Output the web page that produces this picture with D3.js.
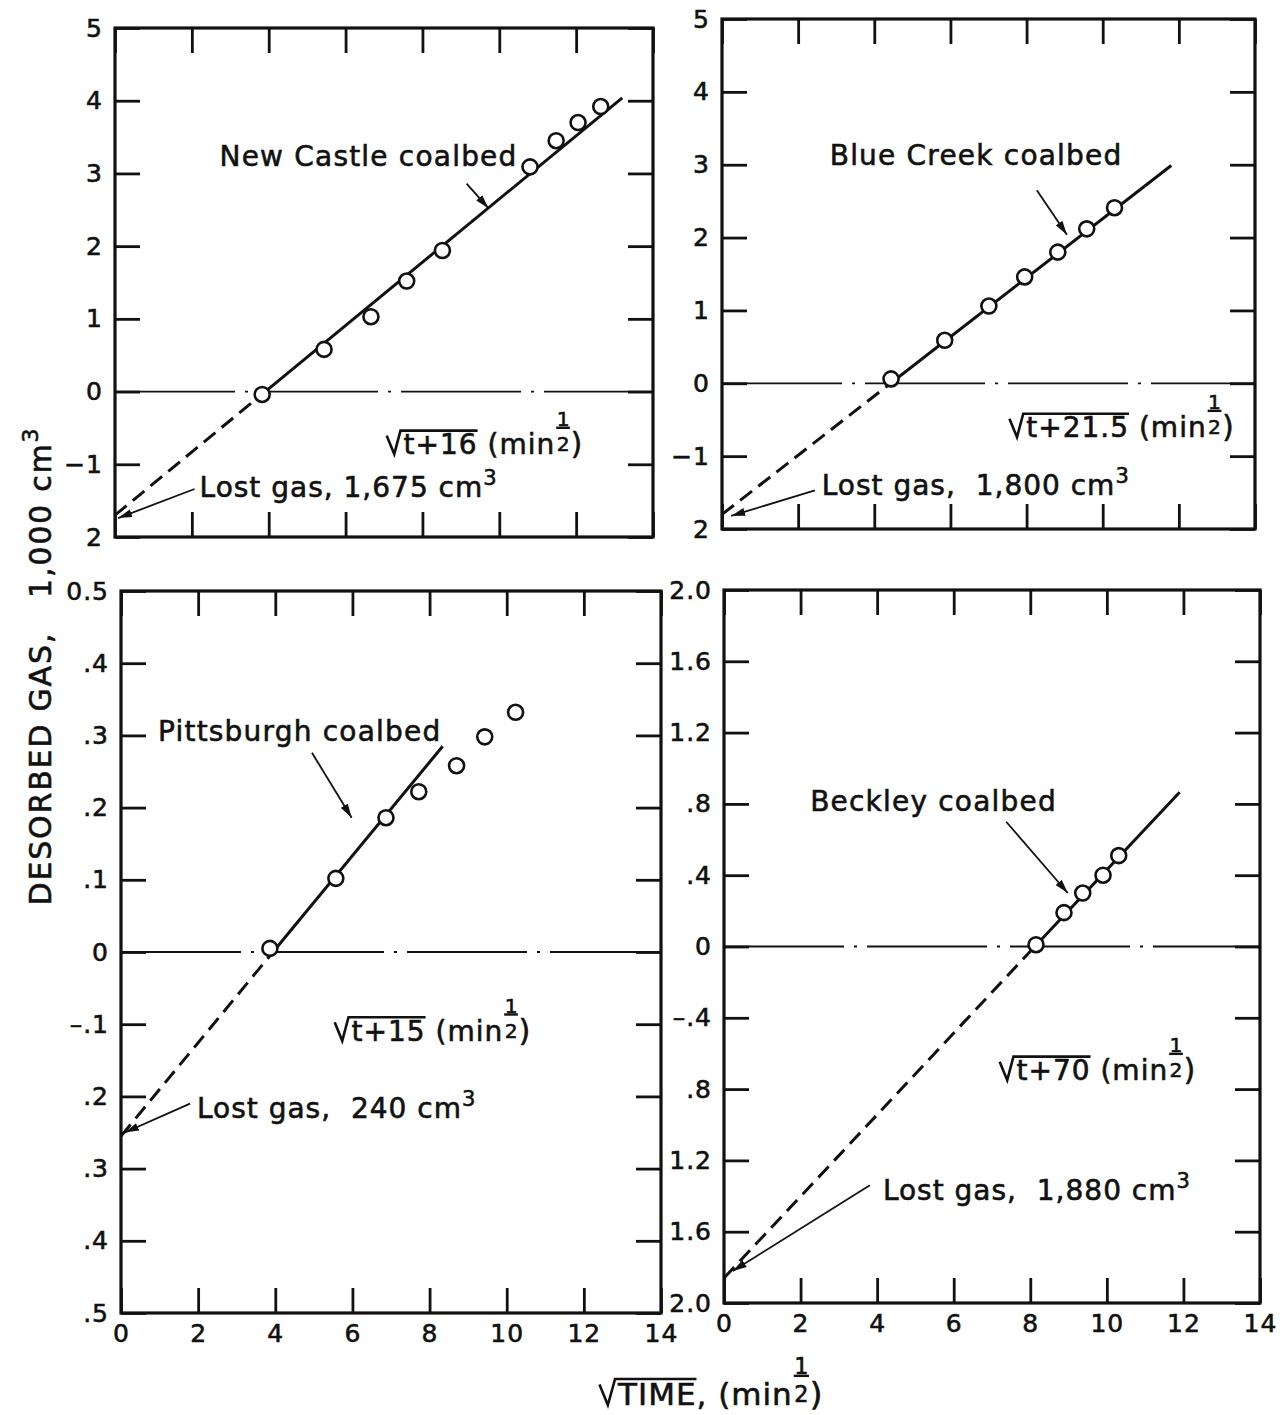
<!DOCTYPE html>
<html>
<head>
<meta charset="utf-8">
<script src="https://cdn.jsdelivr.net/npm/d3@7"></script>
<style>
  body { margin: 0; background: #fff; }
  text { font-family: "DejaVu Sans", sans-serif; fill: #111; stroke: #111; stroke-width: 0.6px; }
</style>
</head>
<body>
<svg id="chart" width="1287" height="1415"></svg>
<script>
// x axis (sqrt time) shared by all panels
const xTicks = [0, 2, 4, 6, 8, 10, 12, 14];
const xTickLabels = ["0", "2", "4", "6", "8", "10", "12", "14"];

// upper panels y axis
const upperTicks = [-2, -1, 0, 1, 2, 3, 4, 5];
const upperTickLabels = ["2", "\u22121", "0", "1", "2", "3", "4", "5"];

// New Castle coalbed
const newCastleX = [3.83, 5.44, 6.66, 7.59, 8.52, 10.8, 11.48, 12.05, 12.64];
const newCastleY = [-0.04, 0.58, 1.03, 1.52, 1.94, 3.09, 3.45, 3.7, 3.92];
const newCastleFitX = [0, 3.91, 13.2];
const newCastleFitY = [-1.7, 0, 4.04];

// Blue Creek coalbed
const blueCreekX = [4.44, 5.85, 7.01, 7.95, 8.82, 9.58, 10.31];
const blueCreekY = [0.06, 0.59, 1.06, 1.46, 1.8, 2.12, 2.41];
const blueCreekFitX = [0, 4.43, 11.8];
const blueCreekFitY = [-1.8, 0, 2.99];

// Pittsburgh coalbed
const pittsTicks = [-0.5, -0.4, -0.3, -0.2, -0.1, 0, 0.1, 0.2, 0.3, 0.4, 0.5];
const pittsTickLabels = [".5", ".4", ".3", ".2", "\u2013.1", "0", ".1", ".2", ".3", ".4", "0.5"];
const pittsX = [3.86, 5.57, 6.87, 7.72, 8.7, 9.43, 10.23];
const pittsY = [0.005, 0.102, 0.186, 0.222, 0.258, 0.298, 0.332];
const pittsFitX = [0, 3.94, 8.34];
const pittsFitY = [-0.255, 0, 0.285];

// Beckley coalbed
const beckleyTicks = [-2, -1.6, -1.2, -0.8, -0.4, 0, 0.4, 0.8, 1.2, 1.6, 2];
const beckleyTickLabels = ["2.0", "1.6", "1.2", ".8", "\u2013.4", "0", ".4", ".8", "1.2", "1.6", "2.0"];
const beckleyX = [8.15, 8.88, 9.37, 9.9, 10.31];
const beckleyY = [0.01, 0.19, 0.3, 0.4, 0.51];
const beckleyFitX = [0, 8.12, 11.9];
const beckleyFitY = [-1.86, 0, 0.865];

const panels = [
  {
    box: [115, 653, 28, 537], yDomain: [-2, 5], yTicks: upperTicks, yLabels: upperTickLabels, xLabels: false,
    px: newCastleX, py: newCastleY, fx: newCastleFitX, fy: newCastleFitY,
    name: "New Castle coalbed", nameAt: [2.72, 3.1], nameArrow: [[9.15, 2.86], [9.72, 2.52]],
    root: "t+16", rootAt: [7.07, -0.86],
    lost: "Lost gas, 1,675 cm", lostAt: [2.2, -1.45], lostArrow: [[2.07, -1.34], [0.08, -1.74]]
  },
  {
    box: [722, 1255, 19, 529], yDomain: [-2, 5], yTicks: upperTicks, yLabels: upperTickLabels, xLabels: false,
    px: blueCreekX, py: blueCreekY, fx: blueCreekFitX, fy: blueCreekFitY,
    name: "Blue Creek coalbed", nameAt: [2.83, 3.0], nameArrow: [[8.27, 2.65], [9.06, 2.04]],
    root: "t+21.5", rootAt: [7.55, -0.74],
    lost: "Lost gas,  1,800 cm", lostAt: [2.62, -1.54], lostArrow: [[2.44, -1.47], [0.24, -1.82]]
  },
  {
    box: [121, 661, 591, 1313], yDomain: [-0.5, 0.5], yTicks: pittsTicks, yLabels: pittsTickLabels, xLabels: true,
    px: pittsX, py: pittsY, fx: pittsFitX, fy: pittsFitY,
    name: "Pittsburgh coalbed", nameAt: [0.96, 0.292], nameArrow: [[4.95, 0.276], [5.98, 0.186]],
    root: "t+15", rootAt: [5.54, -0.123],
    lost: "Lost gas,  240 cm", lostAt: [1.97, -0.23], lostArrow: [[1.79, -0.21], [0.1, -0.25]]
  },
  {
    box: [724, 1260, 590, 1303], yDomain: [-2, 2], yTicks: beckleyTicks, yLabels: beckleyTickLabels, xLabels: true,
    px: beckleyX, py: beckleyY, fx: beckleyFitX, fy: beckleyFitY,
    name: "Beckley coalbed", nameAt: [2.25, 0.76], nameArrow: [[7.37, 0.7], [8.98, 0.3]],
    root: "t+70", rootAt: [7.2, -0.75],
    lost: "Lost gas,  1,880 cm", lostAt: [4.15, -1.42], lostArrow: [[3.81, -1.34], [0.23, -1.82]]
  }
];

const svg = d3.select("#chart");
const ink = "#111";

svg.append("defs")
  .append("marker")
  .attr("id", "arrow")
  .attr("viewBox", "0 0 14 8")
  .attr("refX", 14)
  .attr("refY", 4)
  .attr("markerWidth", 14)
  .attr("markerHeight", 8)
  .attr("markerUnits", "userSpaceOnUse")
  .attr("orient", "auto")
  .append("path")
  .attr("d", "M0,0 L14,4 L0,8 z")
  .attr("fill", ink);

// sqrt label with overline and a stacked 1/2 exponent
function rootLabel(g, x, y, inner, after, size, spacing) {
  const rw = size * 0.6;
  const t1 = g.append("text").attr("x", x + rw).attr("y", y).attr("font-size", size)
    .attr("letter-spacing", spacing).text(inner);
  const w1 = t1.node().getComputedTextLength();
  g.append("path")
    .attr("d", `M${x},${y - size * 0.66} L${x + size * 0.27},${y} L${x + rw - 3},${y - size * 0.84} H${x + rw + w1}`)
    .attr("fill", "none").attr("stroke", ink).attr("stroke-width", 2.6);
  const t2 = g.append("text").attr("x", x + rw + w1).attr("y", y).attr("font-size", size)
    .attr("letter-spacing", spacing).attr("xml:space", "preserve").text(after);
  const w2 = t2.node().getComputedTextLength();
  const fx = x + rw + w1 + w2 + 1;
  const fs = size * 0.72;
  g.append("text").attr("x", fx + fs * 0.34).attr("y", y - size * 1.0).attr("font-size", fs)
    .attr("text-anchor", "middle").text("1");
  g.append("line").attr("x1", fx).attr("x2", fx + fs * 0.68)
    .attr("y1", y - size * 0.94).attr("y2", y - size * 0.94)
    .attr("stroke", ink).attr("stroke-width", 2.4);
  g.append("text").attr("x", fx + fs * 0.34).attr("y", y - size * 0.1).attr("font-size", fs)
    .attr("text-anchor", "middle").text("2");
  g.append("text").attr("x", fx + fs * 0.72).attr("y", y).attr("font-size", size * 1.05).text(")");
}

function drawPanel(p) {
  const [l, r, t, b] = p.box;
  const x = d3.scaleLinear().domain([0, 14]).range([l, r]);
  const y = d3.scaleLinear().domain(p.yDomain).range([b, t]);
  const g = svg.append("g");
  const tick = 25;

  // axes with inward ticks
  const yLeft = g.append("g").attr("transform", `translate(${l},0)`)
    .call(d3.axisLeft(y).tickValues(p.yTicks).tickSize(-tick).tickSizeOuter(0).tickPadding(12)
      .tickFormat((d, i) => p.yLabels[i]));
  const yRight = g.append("g").attr("transform", `translate(${r},0)`)
    .call(d3.axisRight(y).tickValues(p.yTicks).tickSize(-tick).tickSizeOuter(0).tickFormat(""));
  const xTop = g.append("g").attr("transform", `translate(0,${t})`)
    .call(d3.axisTop(x).tickValues(xTicks).tickSize(-tick).tickSizeOuter(0).tickFormat(""));
  const xBottom = g.append("g").attr("transform", `translate(0,${b})`)
    .call(d3.axisBottom(x).tickValues(xTicks).tickSize(-tick).tickSizeOuter(0).tickPadding(11)
      .tickFormat((d, i) => p.xLabels ? xTickLabels[i] : ""));
  [yLeft, yRight, xTop, xBottom].forEach(a => {
    a.select(".domain").remove();
    a.selectAll("line").attr("stroke", ink).attr("stroke-width", 2.8);
    a.selectAll("text").attr("font-size", 25).attr("fill", ink)
      .attr("letter-spacing", 1)
      .style("font-family", '"DejaVu Sans", sans-serif');
  });

  // frame
  g.append("rect")
    .attr("x", l).attr("y", t).attr("width", r - l).attr("height", b - t)
    .attr("fill", "none").attr("stroke", ink).attr("stroke-width", 3.2);

  // zero line (dash-dot)
  g.append("line")
    .attr("x1", x(0)).attr("x2", x(14)).attr("y1", y(0)).attr("y2", y(0))
    .attr("stroke", ink).attr("stroke-width", 1.8)
    .attr("stroke-dasharray", "120,10,3,10");

  // fitted line: dashed extrapolation, solid through data
  const line = d3.line().x(d => x(d[0])).y(d => y(d[1]));
  const fit = p.fx.map((v, i) => [v, p.fy[i]]);
  g.append("path").attr("d", line(fit.slice(0, 2)))
    .attr("fill", "none").attr("stroke", ink).attr("stroke-width", 3)
    .attr("stroke-dasharray", "15,8");
  g.append("path").attr("d", line(fit.slice(1)))
    .attr("fill", "none").attr("stroke", ink).attr("stroke-width", 3);

  // points
  g.selectAll("circle.pt")
    .data(p.px.map((v, i) => [v, p.py[i]]))
    .enter()
    .append("circle")
    .attr("class", "pt")
    .attr("cx", d => x(d[0]))
    .attr("cy", d => y(d[1]))
    .attr("r", 7.5)
    .attr("fill", "#fff")
    .attr("stroke", ink)
    .attr("stroke-width", 2.6);

  // annotations
  const fsz = 28;
  g.append("text").attr("x", x(p.nameAt[0])).attr("y", y(p.nameAt[1])).attr("font-size", fsz)
    .attr("letter-spacing", 1.2).text(p.name);
  g.append("line")
    .attr("x1", x(p.nameArrow[0][0])).attr("y1", y(p.nameArrow[0][1]))
    .attr("x2", x(p.nameArrow[1][0])).attr("y2", y(p.nameArrow[1][1]))
    .attr("stroke", ink).attr("stroke-width", 1.8).attr("marker-end", "url(#arrow)");

  const lost = g.append("text").attr("x", x(p.lostAt[0])).attr("y", y(p.lostAt[1]))
    .attr("font-size", fsz).attr("letter-spacing", 1).attr("xml:space", "preserve").text(p.lost);
  lost.append("tspan").attr("dy", -12).attr("font-size", 21).text("3");
  g.append("line")
    .attr("x1", x(p.lostArrow[0][0])).attr("y1", y(p.lostArrow[0][1]))
    .attr("x2", x(p.lostArrow[1][0])).attr("y2", y(p.lostArrow[1][1]))
    .attr("stroke", ink).attr("stroke-width", 1.8).attr("marker-end", "url(#arrow)");

  rootLabel(g, x(p.rootAt[0]), y(p.rootAt[1]), p.root, " (min", fsz, 1);
}

panels.forEach(drawPanel);

// y title
const yTitle = svg.append("text")
  .attr("transform", "translate(51,666) rotate(-90)")
  .attr("text-anchor", "middle")
  .attr("font-size", 30)
  .attr("letter-spacing", 1.8)
  .attr("xml:space", "preserve")
  .text("DESORBED GAS,   1,000 cm");
yTitle.append("tspan").attr("dy", -13).attr("font-size", 22).text("3");

// x title
const xt = svg.append("g");
rootLabel(xt, 0, 0, "TIME", ", (min", 31, 1);
const bb = xt.node().getBBox();
xt.attr("transform", `translate(${711 - bb.width / 2},1405)`);
</script>
</body>
</html>
